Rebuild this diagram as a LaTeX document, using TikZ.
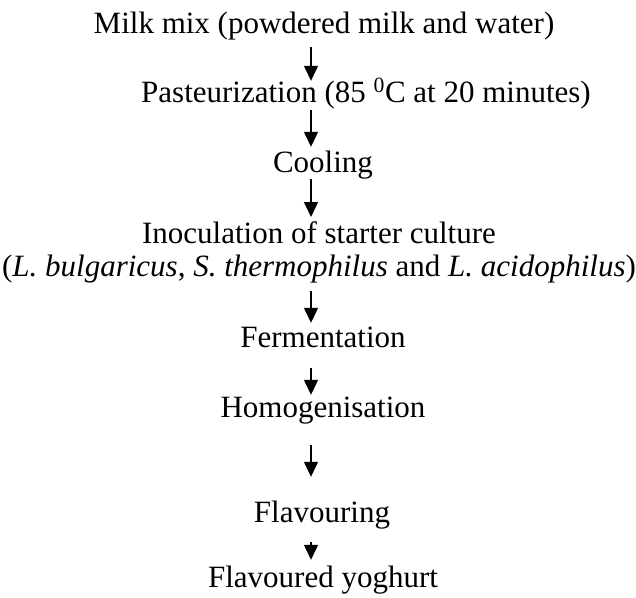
\documentclass[tikz,border=0pt]{standalone}
\usepackage{fontspec}
\setmainfont{Liberation Serif}
\usetikzlibrary{arrows.meta}
\usetikzlibrary{positioning}
\tikzstyle{stage}=[inner sep=0pt,align=center,font=\fontsize{31}{33}\selectfont]
\tikzstyle{oneline}=[stage,text height=21pt,text depth=7pt]
\tikzstyle{flow} = [draw,line width=1.3pt,-{Triangle[width=14pt,length=15pt]}]

\begin{document}
\begin{tikzpicture}[x=1pt,y=1pt]
    \useasboundingbox (0,0) rectangle (636,-597);
    % First we draw the stages of the process
    \foreach \pos/\name/\label in {{(324,-33)/milk/Milk mix (powdered milk and water)}, {(366,-102)/past/Pasteurization (85 \textsuperscript{0}C at 20 minutes)}, {(323,-172)/cool/Cooling}, {(323,-347)/ferm/Fermentation}, {(323,-417)/homog/Homogenisation}, {(322,-522)/flav/Flavouring}, {(323,-587)/yog/Flavoured yoghurt}}
        \node[oneline,anchor=base] (\name) at \pos {\label};

    \node[stage,anchor=north] (inoc) at (319,-221) {Inoculation of starter culture\\(\textit{L. bulgaricus}, \textit{S. thermophilus} and \textit{L. acidophilus})};

    % the arrows all stand on one vertical line
    \coordinate (ax) at (311,0);

    % Connect the stages with arrows
    \foreach \source/\dest/\sa/\sb in {milk/past/7/0, past/cool/1/4, cool/inoc/0/4, inoc/ferm/8/3, ferm/homog/14/1, homog/flav/21/24, flav/yog/13/6}
        \path[flow,shorten <=\sa pt,shorten >=\sb pt] (\source.south -| ax) -- (\dest.north -| ax);
\end{tikzpicture}
\end{document}
